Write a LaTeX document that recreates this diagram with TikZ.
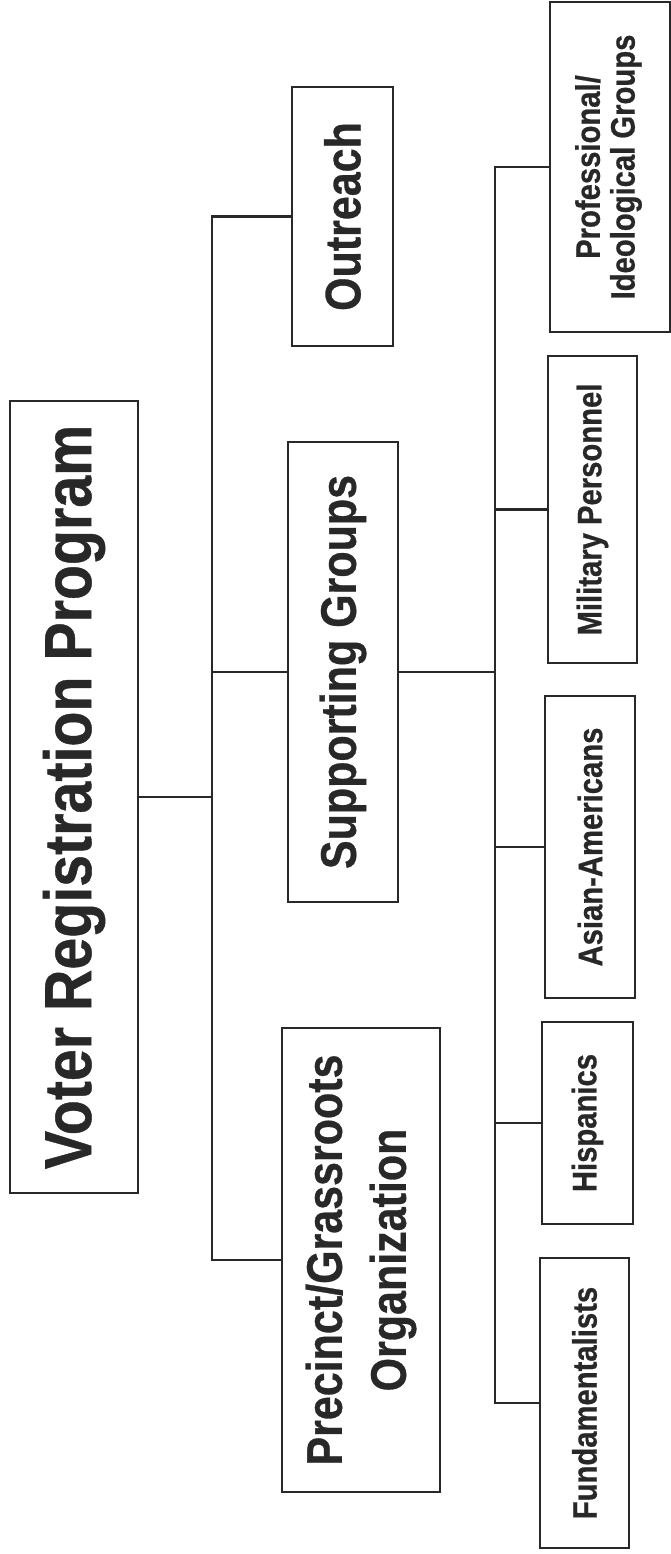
\documentclass[tikz,border=0pt]{standalone}
\usepackage{fontspec}
\usepackage{graphicx}
\newfontfamily\hv{Liberation Sans}[FakeStretch=0.86, BoldFeatures={FakeBold=0.6}]
\definecolor{ink}{RGB}{40,40,40}
\begin{document}
\begin{tikzpicture}[x=0.75pt,y=-0.75pt,
  box/.style={draw=ink, line width=1.6pt, inner sep=0pt, text=ink, fill=white},
  lvone/.style={font=\hv\bfseries\fontsize{50}{52}\selectfont},
  lvtwo/.style={font=\hv\bfseries\fontsize{37.5}{39}\selectfont},
  lvthree/.style={font=\hv\bfseries\fontsize{25.5}{25.5}\selectfont},
  link/.style={draw=ink, line width=1.6pt}]
\useasboundingbox (0,0) rectangle (671,1554);

% level 1
\node[box, lvone, minimum width=128*0.75pt, minimum height=792*0.75pt] (top) at (74,797)
  {\rotatebox{90}{Voter Registration Program}};

% level 2
\node[box, lvtwo, minimum width=101*0.75pt, minimum height=259*0.75pt] (outreach) at (342.5,216.5)
  {\rotatebox{90}{Outreach}};
\node[box, lvtwo, minimum width=110*0.75pt, minimum height=460*0.75pt] (support) at (343,672)
  {\rotatebox{90}{Supporting Groups}};
\node[box, minimum width=158*0.75pt, minimum height=464*0.75pt,
      font=\hv\bfseries\fontsize{37.5}{48}\selectfont] (precinct) at (361,1260)
  {\rotatebox{90}{\begin{tabular}{@{}c@{}}Precinct/Grassroots\\Organization\end{tabular}}};

% level 3
\node[box, lvthree, minimum width=120*0.75pt, minimum height=330*0.75pt] (prof) at (610,167)
  {\rotatebox{90}{\begin{tabular}{@{}c@{}}Professional/\\Ideological Groups\end{tabular}}};
\node[box, lvthree, minimum width=89*0.75pt, minimum height=307*0.75pt] (military) at (592.5,509.5)
  {\rotatebox{90}{Military Personnel}};
\node[box, lvthree, minimum width=90*0.75pt, minimum height=302*0.75pt] (asian) at (590,847)
  {\rotatebox{90}{Asian-Americans}};
\node[box, lvthree, minimum width=91*0.75pt, minimum height=202*0.75pt] (hisp) at (587.5,1123)
  {\rotatebox{90}{Hispanics}};
\node[box, lvthree, minimum width=89*0.75pt, minimum height=290*0.75pt] (fund) at (584.5,1403)
  {\rotatebox{90}{Fundamentalists}};

% connectors
\coordinate (busA) at (212,797);
\draw[link] (top.east) -- (busA);
\draw[link] (outreach.west) -| (busA);
\draw[link] (support.west) -| (busA);
\draw[link] (precinct.west) -| (busA);

\coordinate (busB) at (495,672);
\draw[link] (support.east) -- (busB);
\draw[link] (prof.west) -| (busB);
\draw[link] (military.west) -| (busB);
\draw[link] (asian.west) -| (busB);
\draw[link] (hisp.west) -| (busB);
\draw[link] (fund.west) -| (busB);
\end{tikzpicture}
\end{document}
